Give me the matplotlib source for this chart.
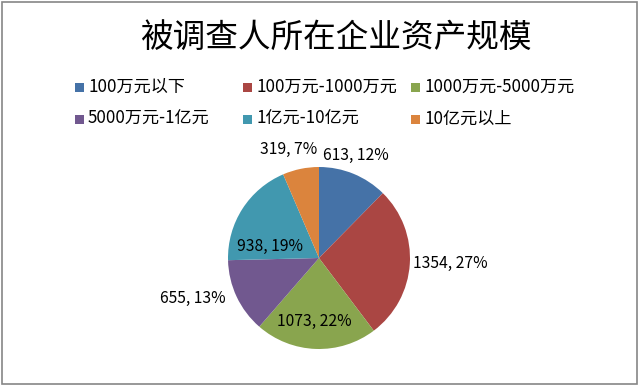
import matplotlib
matplotlib.use("Agg")
import matplotlib.pyplot as plt
from matplotlib.patches import Rectangle

plt.rcParams['font.family'] = ['Noto Sans CJK SC', 'DejaVu Sans']

title = "被调查人所在企业资产规模"
categories = ["100万元以下", "100万元-1000万元", "1000万元-5000万元",
              "5000万元-1亿元", "1亿元-10亿元", "10亿元以上"]
values = [613, 1354, 1073, 655, 938, 319]
percents = [12, 27, 22, 13, 19, 7]
colors = ["#4572A7", "#AA4643", "#89A54E", "#71588F", "#4198AF", "#DB843D"]

W, H = 640, 389
fig = plt.figure(figsize=(W / 100, H / 100), dpi=100)

# border
fig.patches.append(Rectangle((2 / W, (H - 384) / H), 635 / W, 382 / H,
                             transform=fig.transFigure, fill=False,
                             edgecolor="#868686", linewidth=1.2))

fig.text(337 / W, 1 - 38 / H, title, ha="center", va="center", fontsize=23.5)

# legend (manual, Excel-style fixed columns)
col_x = [75, 243, 411]
row_y = [87, 119]
for i, (lab, c) in enumerate(zip(categories, colors)):
    r, cidx = divmod(i, 3)
    x, y = col_x[cidx], row_y[r]
    fig.patches.append(Rectangle((x / W, 1 - (y + 4.5) / H), 9 / W, 9 / H,
                                 transform=fig.transFigure, facecolor=c,
                                 edgecolor="none"))
    fig.text((x + 13) / W, 1 - y / H, lab, ha="left", va="center",
             fontsize=12.3)

# pie
cx, cy, R = 319, 258, 91
ax = fig.add_axes([(cx - R) / W, (H - cy - R) / H, 2 * R / W, 2 * R / H])
ax.pie(values, colors=colors, startangle=90, counterclock=False, radius=1,
       wedgeprops=dict(linewidth=0))
ax.set_xlim(-1, 1)
ax.set_ylim(-1, 1)
ax.set_aspect("equal")
ax.axis("off")

label_pos = [(0.407, 1.132, "center"), (1.033, -0.055, "left"),
             (-0.055, -0.70, "center"), (-1.022, -0.44, "right"),
             (-0.533, 0.132, "center"), (-0.33, 1.198, "center")]
for v, p, (lx, ly, ha) in zip(values, percents, label_pos):
    ax.text(lx, ly, f"{v}, {p}%", ha=ha, va="center", fontsize=11.3,
            color="black", clip_on=False)

fig.savefig("out.png", dpi=100)
